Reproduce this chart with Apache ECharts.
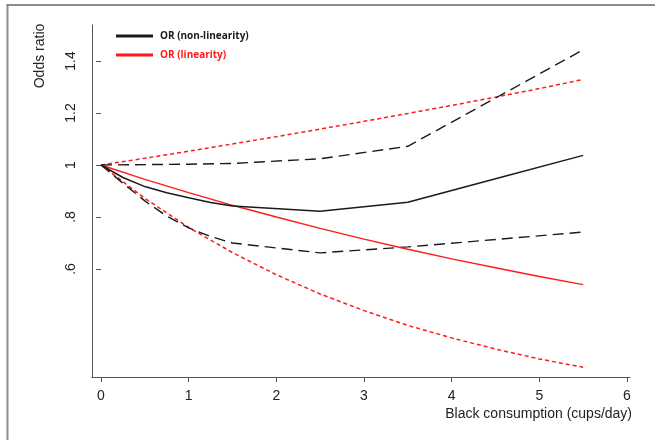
<!DOCTYPE html>
<html>
<head>
<meta charset="utf-8">
<script src="https://cdn.jsdelivr.net/npm/echarts@6/dist/echarts.min.js"></script>
<style>html,body{margin:0;padding:0;background:#fff}#c{width:655px;height:440px}</style>
</head>
<body>
<div id="c"></div>
<script>
// ---- data ----
const xTicks = [0, 1, 2, 3, 4, 5, 6];
const yTicks = [0.6, 0.8, 1, 1.2, 1.4];
const yTickLabels = ['.6', '.8', '1', '1.2', '1.4'];

// non-linearity (restricted cubic spline) model
const nlX      = [0, 0.25, 0.5, 0.75, 1, 1.25, 1.5, 2.5, 3.5, 4.5, 5.5];
const nlOR     = [1, 0.952, 0.917, 0.893, 0.874, 0.856, 0.842, 0.822, 0.857, 0.947, 1.037];
const nlUpperX = [0, 1, 1.5, 2.5, 3.5, 5.5];
const nlUpper  = [1, 1.003, 1.006, 1.024, 1.072, 1.443];
const nlLowerX = [0, 0.25, 0.5, 0.75, 1, 1.25, 1.5, 2.5, 3.5, 5.5];
const nlLower  = [1, 0.93, 0.862, 0.803, 0.758, 0.725, 0.70, 0.662, 0.685, 0.742];

// linearity model
const linX     = [0, 0.5, 1, 1.5, 2, 2.5, 3, 3.5, 4, 4.5, 5, 5.5];
const linOR    = [1, 0.945, 0.894, 0.845, 0.80, 0.756, 0.715, 0.676, 0.639, 0.605, 0.571, 0.540];
const linUpper = [1, 1.026, 1.053, 1.081, 1.109, 1.138, 1.168, 1.198, 1.229, 1.261, 1.294, 1.329];
const linLower = [1, 0.872, 0.760, 0.663, 0.578, 0.504, 0.440, 0.383, 0.335, 0.292, 0.254, 0.222];

const pairs = (xs, ys) => xs.map((x, i) => [x, ys[i]]);

const BLACK = '#1a1a1a';
const RED = '#ff1a1a';
const AX = '#555555';
const FONT = 'Liberation Sans, Arial, sans-serif';

const chart = echarts.init(document.getElementById('c'), null, {renderer: 'canvas'});

function line(name, data, color, type, width) {
  return {
    name: name, type: 'line', data: data, xAxisIndex: 0, yAxisIndex: 0,
    showSymbol: false, symbol: 'none', clip: false, smooth: false, silent: true,
    lineStyle: {color: color, width: width, type: type},
    itemStyle: {color: color},
    emphasis: {disabled: true}, z: type === 'solid' ? 3 : 2
  };
}

chart.setOption({
  animation: false,
  backgroundColor: '#ffffff',
  grid: [
    {left: 101, right: 28, top: 61, bottom: 171},
    {left: 92, right: 25, top: 25, bottom: 63}
  ],
  xAxis: [
    {
      type: 'value', gridIndex: 0, min: 0, max: 6, interval: 1, offset: 108,
      axisLine: {show: false},
      axisTick: {show: true, length: 5, lineStyle: {color: AX, width: 1}},
      axisLabel: {show: true, color: '#222', fontSize: 14, fontFamily: FONT, margin: 12},
      splitLine: {show: false},
      name: 'Black consumption (cups/day)', nameLocation: 'end', nameGap: 5,
      nameTextStyle: {color: '#222', fontSize: 14, fontFamily: FONT, align: 'right', verticalAlign: 'top', padding: [30, 0, 0, 0]}
    },
    {
      type: 'value', gridIndex: 1, min: 0, max: 1,
      axisLine: {show: true, lineStyle: {color: AX, width: 1}},
      axisTick: {show: false}, axisLabel: {show: false}, splitLine: {show: false}
    }
  ],
  yAxis: [
    {
      type: 'value', gridIndex: 0, min: 0.6, max: 1.4, interval: 0.2, offset: 9,
      axisLine: {show: false},
      axisTick: {show: true, length: 5, lineStyle: {color: AX, width: 1}},
      axisLabel: {
        show: true, rotate: 90, color: '#222', fontSize: 14, fontFamily: FONT, margin: 14,
        formatter: function (v) {
          const i = yTicks.findIndex(t => Math.abs(t - v) < 1e-6);
          return i >= 0 ? yTickLabels[i] : '';
        }
      },
      splitLine: {show: false}
    },
    {
      type: 'value', gridIndex: 1, min: 0, max: 1,
      axisLine: {show: true, lineStyle: {color: AX, width: 1}},
      axisTick: {show: false}, axisLabel: {show: false}, splitLine: {show: false}
    }
  ],
  legend: {
    orient: 'vertical', left: 116, top: 29.5, itemGap: 6, padding: 0,
    itemWidth: 37, itemHeight: 3, icon: 'rect',
    selectedMode: false,
    textStyle: {fontSize: 10, fontWeight: 'bold', fontFamily: 'Open Sans, DejaVu Sans, sans-serif', lineHeight: 13, padding: [0, 0, 0, 2]},
    data: [
      {name: 'OR (non-linearity)', textStyle: {color: BLACK}},
      {name: 'OR (linearity)', textStyle: {color: RED}}
    ]
  },
  graphic: [
    {type: 'text', x: 40, y: 56, rotation: Math.PI / 2,
     style: {text: 'Odds ratio', fill: '#222', font: '14px ' + FONT, textAlign: 'center', textVerticalAlign: 'middle'}},
    {type: 'line', shape: {x1: 7.5, y1: 4, x2: 7.5, y2: 440}, style: {stroke: '#8c8c8c', lineWidth: 2}},
    {type: 'line', shape: {x1: 6.5, y1: 5, x2: 655, y2: 5}, style: {stroke: '#8c8c8c', lineWidth: 2}}
  ],
  series: [
    line('lin upper', pairs(linX, linUpper), RED, [4, 3], 1.5),
    line('lin lower', pairs(linX, linLower), RED, [4, 3], 1.5),
    line('nl upper', pairs(nlUpperX, nlUpper), BLACK, [11, 6], 1.4),
    line('nl lower', pairs(nlLowerX, nlLower), BLACK, [11, 6], 1.4),
    line('OR (linearity)', pairs(linX, linOR), RED, 'solid', 1.4),
    line('OR (non-linearity)', pairs(nlX, nlOR), BLACK, 'solid', 1.5)
  ]
});
</script>
</body>
</html>
